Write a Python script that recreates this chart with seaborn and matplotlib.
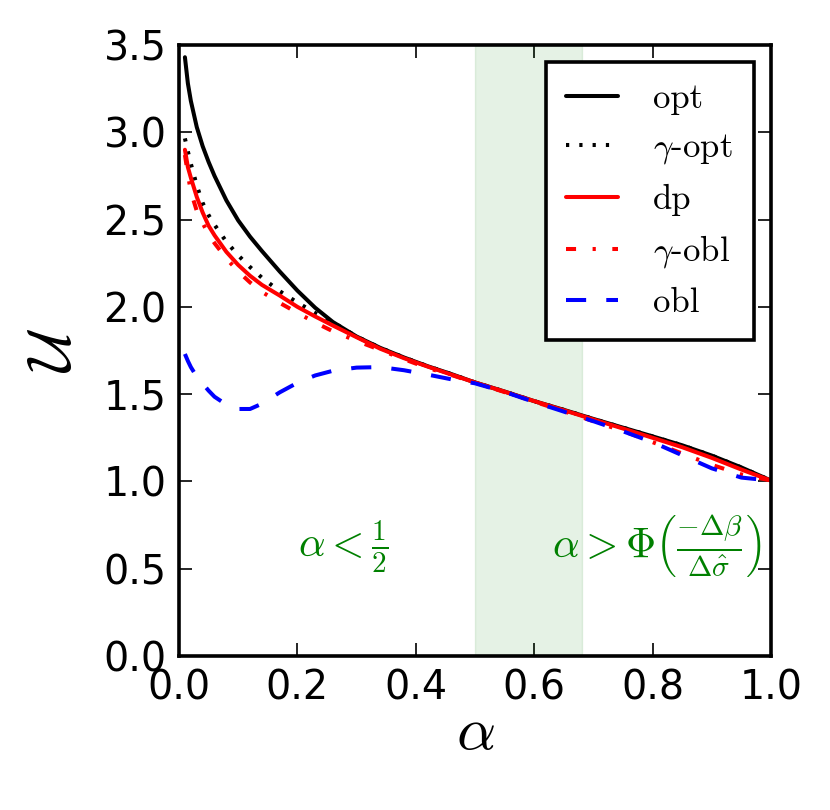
import numpy as np
import pandas as pd
import seaborn as sns
import matplotlib
matplotlib.use("Agg")
import matplotlib.pyplot as plt

# values
alpha = [0.01, 0.015, 0.02, 0.03, 0.04, 0.05, 0.06, 0.08, 0.10, 0.12, 0.14, 0.17,
         0.20, 0.23, 0.26, 0.30, 0.34, 0.38, 0.42, 0.46, 0.50, 0.55, 0.60, 0.65,
         0.70, 0.75, 0.80, 0.85, 0.90, 0.95, 1.00]

u_opt = [3.43, 3.28, 3.18, 3.03, 2.92, 2.83, 2.75, 2.61, 2.495, 2.402, 2.32, 2.203,
         2.093, 1.995, 1.913, 1.83, 1.765, 1.71, 1.66, 1.615, 1.567, 1.515, 1.46, 1.41,
         1.358, 1.308, 1.258, 1.207, 1.148, 1.08, 1.005]

u_gamma_opt = [2.965, 2.89, 2.82, 2.695, 2.595, 2.525, 2.47, 2.373, 2.295, 2.228, 2.167, 2.09,
               2.025, 1.965, 1.912, 1.83, 1.765, 1.71, 1.66, 1.615, 1.567, 1.515, 1.46, 1.41,
               1.358, 1.308, 1.258, 1.207, 1.148, 1.08, 1.005]

u_dp = [2.90, 2.80, 2.74, 2.63, 2.54, 2.465, 2.41, 2.315, 2.24, 2.178, 2.126, 2.065,
        2.0, 1.945, 1.893, 1.826, 1.76, 1.706, 1.658, 1.612, 1.567, 1.514, 1.46, 1.408,
        1.355, 1.303, 1.25, 1.196, 1.135, 1.068, 1.005]

u_gamma_obl = [2.87, 2.76, 2.66, 2.55, 2.48, 2.415, 2.365, 2.277, 2.203, 2.14, 2.086, 2.023,
               1.966, 1.91, 1.86, 1.805, 1.753, 1.70, 1.65, 1.61, 1.565, 1.512, 1.457, 1.402,
               1.345, 1.289, 1.225, 1.16, 1.095, 1.04, 1.005]

u_obl = [1.73, 1.69, 1.655, 1.60, 1.56, 1.52, 1.485, 1.44, 1.415, 1.415, 1.445, 1.51,
         1.565, 1.607, 1.634, 1.652, 1.655, 1.637, 1.612, 1.585, 1.562, 1.513, 1.455, 1.40,
         1.345, 1.287, 1.225, 1.15, 1.075, 1.022, 1.005]

labels = [r"opt", r"$\gamma$-opt", r"dp", r"$\gamma$-obl", r"obl"]
colors = ["black", "black", "red", "red", "blue"]
styles = ["-", (0, (0.8, 2.5)), "-", (0, (2.5, 4.1, 0.8, 4.1)), (0, (5, 5))]

shade_lo, shade_hi = 0.5, 0.68

sns.set_style("ticks", {"xtick.direction": "in", "ytick.direction": "in",
                        "axes.edgecolor": "black", "text.color": "black",
                        "xtick.color": "black", "ytick.color": "black",
                        "axes.labelcolor": "black"})
plt.rcParams["font.family"] = ["DejaVu Sans"]
plt.rcParams["mathtext.fontset"] = "cm"

fig = plt.figure(figsize=(8.3, 8.1), dpi=100)
ax = fig.add_axes([179 / 830, 154 / 810, 592 / 830, 611 / 810])

ax.axvspan(shade_lo, shade_hi, color="green", alpha=0.1)

series = [u_opt, u_gamma_opt, u_dp, u_gamma_obl, u_obl]
for vals, lab, col, ls in zip(series, labels, colors, styles):
  df = pd.DataFrame({"alpha": alpha, "U": vals})
  sns.lineplot(data=df, x="alpha", y="U", ax=ax, color=col, linewidth=2.9,
               linestyle=ls, label=lab, sort=False)
for ln in ax.lines:
  ln.set_linewidth(2.9)

ax.text(0.277, 0.62, r"$\alpha < \frac{1}{2}$", color="green", fontsize=30,
        ha="center", va="center")
ax.text(0.807, 0.635, r"$\alpha > \Phi\left(\frac{-\Delta\beta}{\Delta\hat{\sigma}}\right)$",
        color="green", fontsize=30, ha="center", va="center")

ax.set_xlim(0, 1)
ax.set_ylim(0, 3.5)
ax.set_xticks(np.arange(0, 1.01, 0.2))
ax.set_yticks(np.arange(0, 3.51, 0.5))
ax.set_xticklabels([f"{v:.1f}" for v in np.arange(0, 1.01, 0.2)])
ax.set_yticklabels([f"{v:.1f}" for v in np.arange(0, 3.51, 0.5)])
ax.tick_params(top=True, right=True, direction="in", length=9.5, width=1.2,
               labelsize=28.5, pad=9, color="black", labelcolor="black")
for sp in ax.spines.values():
  sp.set_linewidth(2.6)
  sp.set_color("black")

ax.set_xlabel(r"$\alpha$", fontsize=44, labelpad=-4, color="black")
ax.set_ylabel(r"$\mathcal{U}$", fontsize=44, labelpad=14, color="black")

leg = ax.legend(loc="upper right", fancybox=False, framealpha=1, edgecolor="black",
                prop={"family": "cmr10", "size": 25}, handlelength=1.5,
                handletextpad=1.0, borderpad=0.6, labelspacing=0.5,
                borderaxespad=0.5)
leg.get_frame().set_linewidth(2.6)
for t in leg.get_texts():
  t.set_color("black")

fig.savefig("out.png", dpi=100)
